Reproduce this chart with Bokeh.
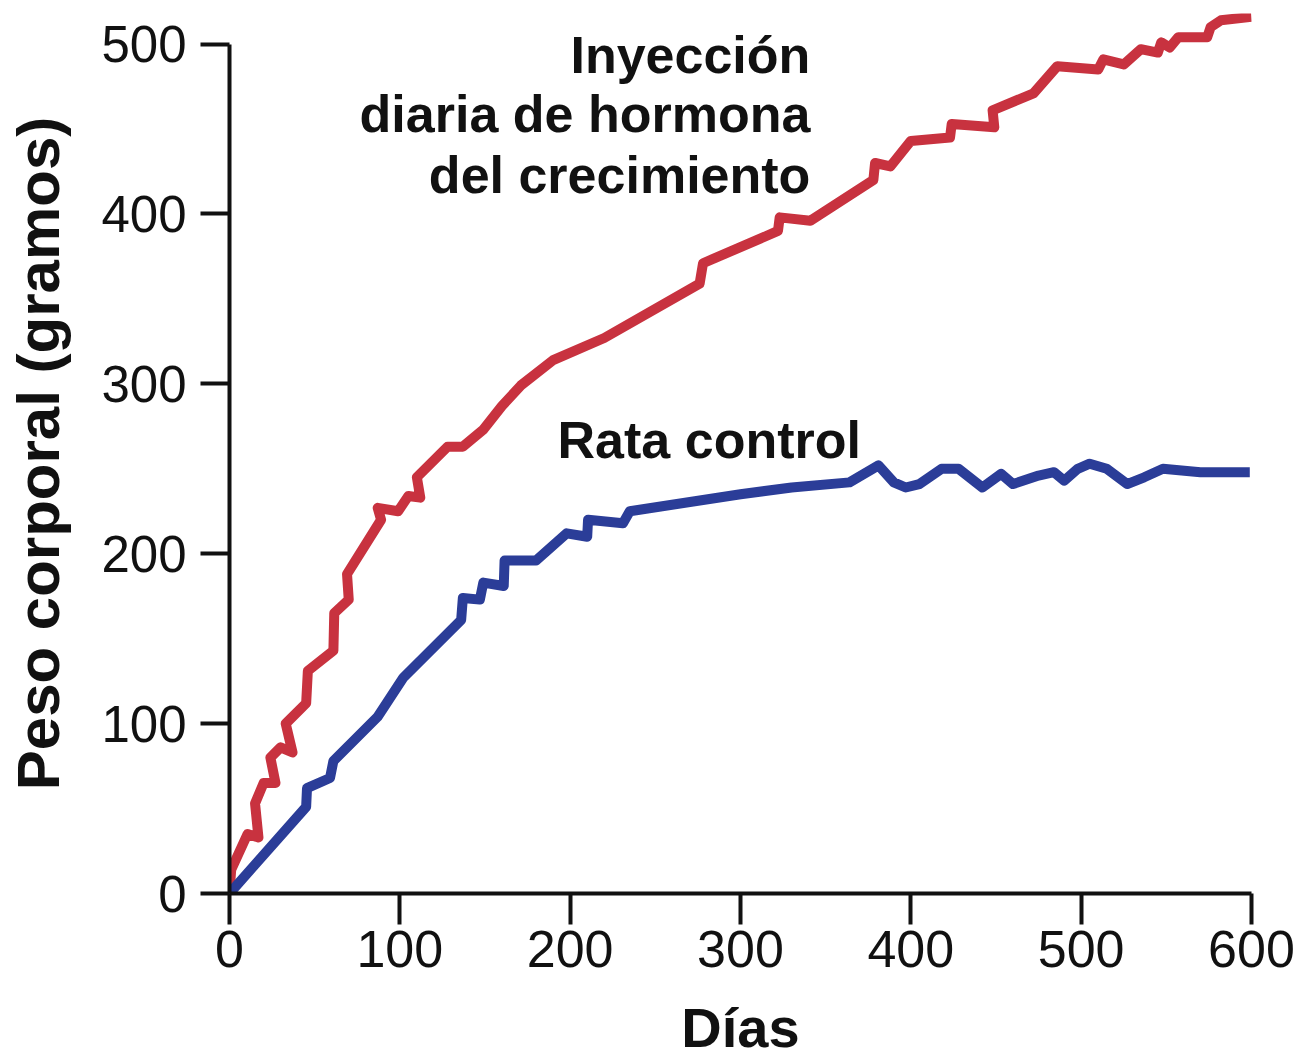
from bokeh.plotting import figure
from bokeh.models import Range1d, FixedTicker, Label
from bokeh.embed import file_html
from bokeh.resources import INLINE

# Growth-hormone injected rat (days, grams)
gh_days = [0, 1, 10.6, 17, 15, 20, 27, 24, 30, 37, 33, 45, 46, 61, 61.5, 70, 69,
           89, 87, 99, 105, 112, 110, 128, 137, 149, 160, 171, 190, 220, 276, 278,
           322, 323, 341, 378, 379, 388, 400, 423, 424, 449, 448, 472, 486, 510,
           513, 525, 535, 545, 547, 552, 557, 574, 576, 582, 600]
gh_weight = [0, 14, 35, 33, 53, 65, 65, 80, 86, 83, 100, 112, 131, 143, 165, 173, 188,
             220, 227, 225, 234, 233, 245, 263, 263, 273, 287, 299, 314, 327, 359, 371,
             390, 398, 396, 420, 430, 428, 443, 445, 453, 451, 461, 471, 487, 485,
             491, 488, 497, 495, 501, 498, 504, 504, 510, 514, 516]

# Control rat (days, grams)
ctrl_days = [0, 45, 45.5, 59, 61, 87, 102, 136, 137, 147, 149, 161, 161.5, 180, 198,
             210, 210.5, 231, 235, 300, 330, 364, 381, 390, 397, 405, 418, 428, 442,
             453, 460, 475, 484, 490, 498, 505, 515, 527, 537, 548, 570, 599]
ctrl_weight = [0, 51, 62, 68, 78, 104, 127, 161, 174, 173, 183, 181, 196, 196, 212,
               210, 220, 218, 225, 235, 239, 242, 252, 242, 239, 241, 250, 250, 239,
               247, 241, 246, 248, 243, 250, 253, 250, 241, 245, 250, 248, 248]

x_ticks = [0, 100, 200, 300, 400, 500, 600]
y_ticks = [0, 100, 200, 300, 400, 500]

FONT = "Liberation Sans"
INK = "#111111"

p = figure(width=1309, height=1061, output_backend="svg", toolbar_location=None,
           x_range=Range1d(0, 600), y_range=Range1d(0, 518),
           min_border_left=229, min_border_right=58, min_border_top=13,
           min_border_bottom=168)
p.outline_line_color = None
p.grid.visible = False
p.background_fill_color = "white"
p.border_fill_color = "white"

p.line(gh_days, gh_weight, line_color="#C8323F", line_width=10, line_join="round")
p.line(ctrl_days, ctrl_weight, line_color="#2B3D98", line_width=10, line_join="round")

for ax in (p.xaxis[0], p.yaxis[0]):
    ax.axis_line_width = 4
    ax.axis_line_color = INK
    ax.major_tick_line_width = 4
    ax.major_tick_line_color = INK
    ax.major_tick_in = 0
    ax.minor_tick_line_color = None
    ax.major_label_text_color = INK
    ax.axis_label_text_color = INK
    ax.axis_label_text_font = FONT
    ax.axis_label_text_font_style = "bold"

p.xaxis.ticker = FixedTicker(ticks=x_ticks)
p.xaxis.major_tick_out = 31
p.xaxis.major_label_text_font = FONT
p.xaxis.major_label_text_font_size = "52px"
p.xaxis.major_label_standoff = 6
p.xaxis.axis_label = "Días"
p.xaxis.axis_label_text_font_size = "56px"
p.xaxis.axis_label_standoff = 26

p.yaxis.ticker = FixedTicker(ticks=y_ticks)
p.yaxis.bounds = (0, 500)
p.yaxis.major_tick_out = 29
p.yaxis.major_label_text_font = FONT
p.yaxis.major_label_text_font_size = "51px"
p.yaxis.major_label_standoff = 14
p.yaxis.axis_label = "Peso corporal (gramos)"
p.yaxis.axis_label_text_font_size = "60px"
p.yaxis.axis_label_standoff = 26

for txt, yy in [("Inyección", 493.5), ("diaria de hormona", 458.8), ("del crecimiento", 422.9)]:
    p.add_layout(Label(x=341, y=yy, text=txt, text_align="right",
                       text_baseline="alphabetic", text_font=FONT,
                       text_font_style="bold", text_font_size="52px",
                       text_color=INK))

p.add_layout(Label(x=192.6, y=266.8, text="Rata control", text_align="left",
                   text_baseline="alphabetic", text_font=FONT,
                   text_font_style="bold", text_font_size="52px", text_color=INK))

open("out.html", "w").write(file_html(p, INLINE))
